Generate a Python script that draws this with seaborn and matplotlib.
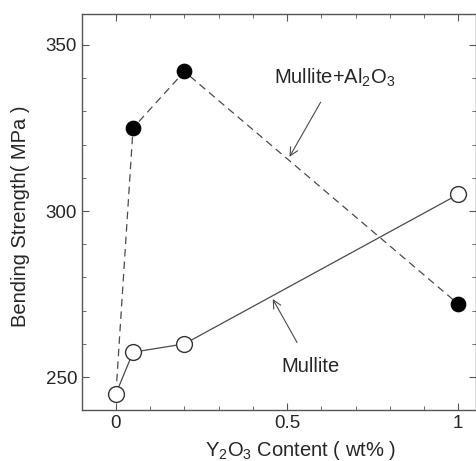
import matplotlib
matplotlib.use("Agg")
import matplotlib.pyplot as plt
import seaborn as sns
from matplotlib.ticker import MultipleLocator

# Y2O3 content (wt%) and bending strength (MPa)
y2o3_mullite = [0, 0.05, 0.2, 1.0]
strength_mullite = [245, 257.5, 260, 305]

y2o3_al2o3 = [0, 0.05, 0.2, 1.0]
strength_al2o3 = [245, 325, 342, 272]

x_ticks = [0, 0.5, 1]
x_tick_labels = ["0", "0.5", "1"]
y_ticks = [250, 300, 350]

sns.set_style("ticks")
plt.rcParams['font.family'] = ['Liberation Sans', 'DejaVu Sans']
plt.rcParams['mathtext.fontset'] = 'custom'
plt.rcParams['mathtext.rm'] = 'Liberation Sans'
plt.rcParams['mathtext.it'] = 'Liberation Sans'

fig = plt.figure(figsize=(4.77, 4.61), dpi=100)
ax = fig.add_axes([0.172, 0.1106, 0.826, 0.859])

line_col = "#4a4a4a"

# lines
sns.lineplot(x=y2o3_al2o3, y=strength_al2o3, ax=ax, color=line_col, lw=0.9,
             linestyle=(0, (6, 4)), sort=False)
sns.lineplot(x=y2o3_mullite, y=strength_mullite, ax=ax, color=line_col, lw=0.9,
             sort=False)

# markers: filled ones skip the shared 0 wt% point
sns.scatterplot(x=y2o3_al2o3[1:], y=strength_al2o3[1:], ax=ax, s=110,
                color="black", edgecolor="black", zorder=4)
sns.scatterplot(x=y2o3_mullite, y=strength_mullite, ax=ax, s=130,
                facecolor="white", edgecolor="#333333", linewidth=1.0, zorder=4)

ax.set_xlim(-0.099, 1.052)
ax.set_ylim(240.1, 359.3)
ax.set_xticks(x_ticks)
ax.set_xticklabels(x_tick_labels)
ax.set_yticks(y_ticks)
ax.xaxis.set_minor_locator(MultipleLocator(0.1))
ax.yaxis.set_minor_locator(MultipleLocator(10))
ax.tick_params(which='both', direction='in', top=True, right=True,
               labelsize=13.5, color="#555555")
ax.tick_params(which='major', length=5, width=0.8)
ax.tick_params(which='minor', length=3, width=0.6)
for sp in ax.spines.values():
    sp.set_color("#555555")
    sp.set_linewidth(1.0)

ax.set_xlabel("Y$_2$O$_3$ Content ( wt% )", fontsize=14.5, va="center", ha="center")
ax.xaxis.set_label_coords(0.554, -0.101)
ax.set_ylabel("Bending Strength( MPa )", fontsize=14.5, va="center", ha="center")
ax.yaxis.set_label_coords(-0.157, 0.49)

ax.annotate("Mullite+Al$_2$O$_3$", xy=(0.507, 316.3), xytext=(0.638, 340),
            fontsize=14.5, ha="center", va="center",
            arrowprops=dict(arrowstyle="->", color=line_col, lw=0.8,
                            shrinkA=8, shrinkB=0))
ax.annotate("Mullite", xy=(0.458, 273.5), xytext=(0.568, 253.3),
            fontsize=14.5, ha="center", va="center",
            arrowprops=dict(arrowstyle="->", color=line_col, lw=0.8,
                            shrinkA=9, shrinkB=0))

fig.savefig("out.png", dpi=100)
